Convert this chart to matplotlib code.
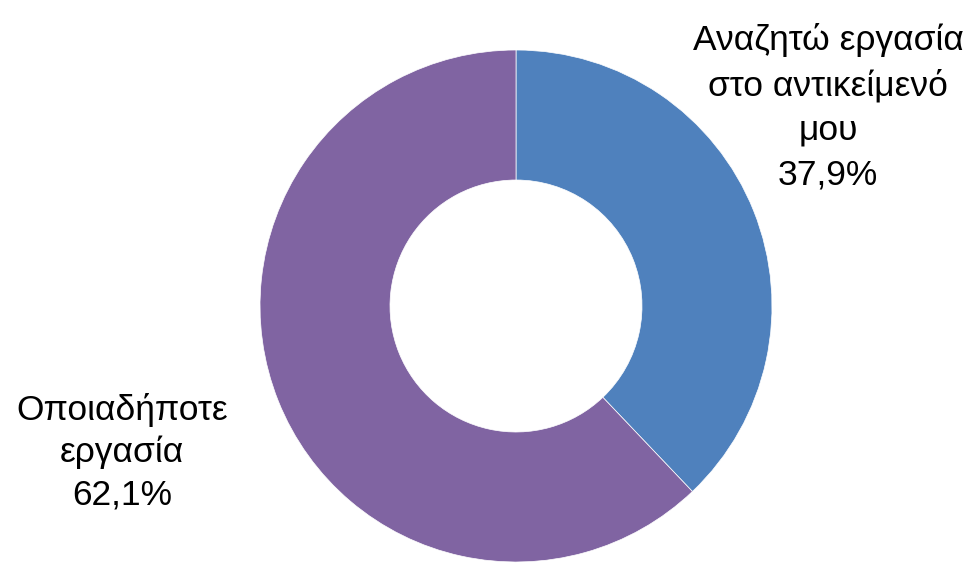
import matplotlib
matplotlib.use("Agg")
import matplotlib.pyplot as plt

# shares of the two answers (percent)
labels = ["Αναζητώ εργασία\nστο αντικείμενό\nμου", "Οποιαδήποτε\nεργασία"]
values = [37.9, 62.1]
colors = ["#4F81BD", "#8064A2"]

plt.rcParams['font.family'] = ['Liberation Sans', 'DejaVu Sans']

fig = plt.figure(figsize=(9.7, 5.66), dpi=100)
ax = fig.add_axes([0, 0, 1, 1])

wedges, _ = ax.pie(values, colors=colors, startangle=90, counterclock=False,
                   center=(516, 260), radius=256, frame=True,
                   wedgeprops=dict(width=130, edgecolor='white', linewidth=0.5))
ax.set_xlim(0, 970)
ax.set_ylim(0, 566)
ax.set_aspect('equal')
ax.axis('off')

def fmt(v):
    return ("%.1f%%" % v).replace(".", ",")

ax.text(828, 566 - 107, labels[0] + "\n" + fmt(values[0]), ha='center', va='center',
        fontsize=25.5, linespacing=1.45, color='black')
ax.text(122, 566 - 452, labels[1] + "\n" + fmt(values[1]), ha='center', va='center',
        fontsize=25.5, linespacing=1.35, color='black')

fig.savefig("out.png", dpi=100)
